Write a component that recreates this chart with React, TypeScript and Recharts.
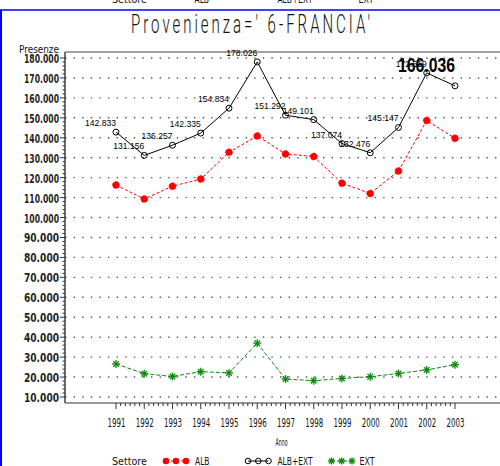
import React from 'react';
import { LineChart, Line, XAxis, YAxis, ReferenceLine, LabelList, Legend } from 'recharts';

const YEARS = [1991, 1992, 1993, 1994, 1995, 1996, 1997, 1998, 1999, 2000, 2001, 2002, 2003];
const ALB = [116300, 109300, 115700, 119300, 132700, 140900, 131900, 130600, 117200, 112100, 123300, 148700, 139700];
const ALB_EXT = [142833, 131156, 136257, 142335, 154834, 178026, 151292, 149101, 137074, 132476, 145147, 172519, 166036];
const EXT = [26600, 21700, 20300, 22700, 22100, 37000, 19000, 18200, 19300, 20200, 21800, 23600, 26200];

const Y_TICKS = [10000, 20000, 30000, 40000, 50000, 60000, 70000, 80000, 90000, 100000, 110000, 120000,
  130000, 140000, 150000, 160000, 170000, 180000];

// minor tick marks: 4 per y interval, 5 per year
const Y_MINOR = Y_TICKS.slice(0, -1).flatMap((v) => [2000, 4000, 6000, 8000].map((d) => v + d));
const X_MINOR = YEARS.slice(0, -1).flatMap((y) => [1, 2, 3, 4, 5].map((k) => y + k / 6));

const data = YEARS.map((year, i) => ({ year, alb: ALB[i], albExt: ALB_EXT[i], ext: EXT[i] }));

const TICK_FONT = "'DejaVu Sans', sans-serif";
const LABEL_FONT = "'Liberation Sans', Arial, sans-serif";
const GREEN = '#0a870a';

// 180000 -> "180.000"
const fmt = (v: number) => `${Math.floor(v / 1000)}.${String(Math.round(v % 1000)).padStart(3, '0')}`;

const isMajor = (v: number, step: number) => Math.abs(v / step - Math.round(v / step)) < 1e-6;

const XTick = (props: any) => {
  const { x, y, payload } = props;
  const v = payload.value;
  const major = isMajor(v, 1);
  return (
    <g>
      <line x1={x} x2={x} y1={y} y2={y + (major ? 6 : 3)} stroke="#333" strokeWidth={1} />
      {major && (
        <text x={x + 0.5} y={y + 24} textAnchor="middle" fontFamily={TICK_FONT} fontSize={12}
          textLength={18} lengthAdjust="spacingAndGlyphs" fill="#111">
          {Math.round(v)}
        </text>
      )}
    </g>
  );
};

const YTick = (props: any) => {
  const { x, y, payload } = props;
  const v = payload.value;
  const major = isMajor(v, 10000);
  return (
    <g>
      <line x1={x - (major ? 5 : 2.5)} x2={x} y1={y} y2={y} stroke="#333" strokeWidth={1} />
      {major && (
        <text x={x - 6} y={y + 5} textAnchor="end" fontFamily={TICK_FONT} fontSize={13} fontWeight="bold"
          textLength={35} lengthAdjust="spacingAndGlyphs" fill="#222">
          {fmt(v)}
        </text>
      )}
    </g>
  );
};

const ValueLabel = (props: any) => {
  const { x, y, value, index } = props;
  if (index === YEARS.length - 1) {
    return (
      <text x={x} y={y - 14} textAnchor="end" fontFamily={LABEL_FONT} fontWeight="bold" fontSize={20}
        textLength={57} lengthAdjust="spacingAndGlyphs" fill="#000">
        {fmt(value)}
      </text>
    );
  }
  return (
    <text x={x} y={y - 6} textAnchor="end" fontFamily={LABEL_FONT} fontSize={9.5}
      textLength={31} lengthAdjust="spacingAndGlyphs" fill="#000">
      {fmt(value)}
    </text>
  );
};

const Star = ({ cx, cy, size = 4, color = GREEN }: any) => {
  if (cx == null || cy == null) return null;
  const d = size * 0.7;
  return (
    <g stroke={color} strokeWidth={1.3}>
      <line x1={cx - size} x2={cx + size} y1={cy} y2={cy} />
      <line x1={cx} x2={cx} y1={cy - size} y2={cy + size} />
      <line x1={cx - d} x2={cx + d} y1={cy - d} y2={cy + d} />
      <line x1={cx - d} x2={cx + d} y1={cy + d} y2={cy - d} />
    </g>
  );
};

const StarDot = (props: any) => <Star key={`s-${props.index}`} cx={props.cx} cy={props.cy} />;

const legendText = (x: number, y: number, w: number, s: string) => (
  <text x={x} y={y} fontFamily={TICK_FONT} fontSize={10} textLength={w} lengthAdjust="spacingAndGlyphs" fill="#111">
    {s}
  </text>
);

const renderLegend = () => (
  <svg width={500} height={13} style={{ display: 'block' }}>
    {legendText(112, 12, 35, 'Settore')}
    <line x1={166} x2={186} y1={8} y2={8} stroke="#ff0000" strokeDasharray="3 2" />
    {[166, 176, 186].map((cx) => <circle key={cx} cx={cx} cy={8} r={3.3} fill="#ff0000" />)}
    {legendText(195, 12, 14.5, 'ALB')}
    <line x1={248} x2={268.5} y1={8} y2={8} stroke="#000" />
    {[248, 258.3, 268.5].map((cx) => <circle key={cx} cx={cx} cy={8} r={2.8} fill="none" stroke="#000" />)}
    {legendText(277.5, 12, 35, 'ALB+EXT')}
    <line x1={331} x2={352} y1={8} y2={8} stroke={GREEN} strokeDasharray="4 2" />
    {[331.5, 341.7, 352].map((cx) => <Star key={cx} cx={cx} cy={8} size={3.5} />)}
    {legendText(359.5, 12, 15, 'EXT')}
  </svg>
);

const AnnoLabel = (props: any) => {
  const vb = props.viewBox || {};
  return (
    <text x={vb.x + vb.width / 2 - 1} y={vb.y + 43} textAnchor="middle" fontFamily={TICK_FONT} fontSize={11}
      textLength={12} lengthAdjust="spacingAndGlyphs" fill="#111">
      Anno
    </text>
  );
};

const PresenzeLabel = (props: any) => {
  const vb = props.viewBox || {};
  return (
    <text x={vb.x + 59} y={vb.y + 0.5} textAnchor="end" fontFamily={TICK_FONT} fontSize={10}
      textLength={40} lengthAdjust="spacingAndGlyphs" fill="#111">
      Presenze
    </text>
  );
};

export default function App() {
  return (
    <div style={{ position: 'absolute', left: 0, top: 0, width: 500, height: 466, overflow: 'hidden', background: '#fff' }}>
      <LineChart width={500} height={466} data={data} margin={{ top: 52, right: 0, bottom: 0, left: 0 }}>
        <XAxis
          dataKey="year"
          type="number"
          domain={[1989.195, 2004.593]}
          allowDataOverflow
          ticks={[...YEARS, ...X_MINOR]}
          interval={0}
          tickLine={false}
          tickSize={0}
          tickMargin={0}
          tick={<XTick />}
          height={50}
          axisLine={{ stroke: '#333', strokeWidth: 1.2 }}
          label={<AnnoLabel />}
        />
        <YAxis
          type="number"
          domain={[7000, 183000]}
          ticks={[...Y_TICKS, ...Y_MINOR]}
          interval={0}
          tickLine={false}
          tickSize={0}
          tickMargin={0}
          tick={<YTick />}
          width={65}
          axisLine={{ stroke: '#333', strokeWidth: 1.4 }}
          label={<PresenzeLabel />}
        />
        {Y_TICKS.map((v) => (
          <ReferenceLine key={v} y={v} stroke="#555" strokeWidth={1.4} strokeDasharray="1.4 7.2" />
        ))}
        <ReferenceLine y={183000} stroke="#444" strokeWidth={1.2} />
        <Legend verticalAlign="bottom" content={renderLegend} />
        <Line
          dataKey="alb"
          name="ALB"
          stroke="#ff0000"
          strokeWidth={1}
          strokeDasharray="3 2"
          dot={{ r: 3.5, fill: '#ff0000', stroke: '#ff0000', strokeWidth: 0.5 }}
          isAnimationActive={false}
        />
        <Line
          dataKey="ext"
          name="EXT"
          stroke={GREEN}
          strokeWidth={1}
          strokeDasharray="4 2"
          dot={StarDot}
          isAnimationActive={false}
        />
        <Line
          dataKey="albExt"
          name="ALB+EXT"
          stroke="#000"
          strokeWidth={1}
          dot={{ r: 3, fill: 'none', stroke: '#000', strokeWidth: 1 }}
          isAnimationActive={false}
        >
          <LabelList dataKey="albExt" content={<ValueLabel />} />
        </Line>
      </LineChart>
      <svg width={500} height={466} style={{ position: 'absolute', left: 0, top: 0, pointerEvents: 'none' }}>
        <g>
          {legendText(112, 2.7, 35, 'Settore')}
          {legendText(194.5, 2.7, 14.5, 'ALB')}
          {legendText(277.5, 2.7, 35, 'ALB+EXT')}
          {legendText(358.5, 2.7, 15, 'EXT')}
        </g>
        <line x1={0} x2={500} y1={10} y2={10} stroke="#0000ff" strokeWidth={1.5} />
        <line x1={1} x2={1} y1={10} y2={466} stroke="#0000ff" strokeWidth={2} />
        <text x={252} y={33} textAnchor="middle" fontFamily="Roboto, 'DejaVu Sans', sans-serif" fontWeight={300}
          fontSize={25} letterSpacing={5} textLength={242} lengthAdjust="spacingAndGlyphs" fill="#111">
          Provenienza=' 6-FRANCIA'
        </text>
      </svg>
    </div>
  );
}
